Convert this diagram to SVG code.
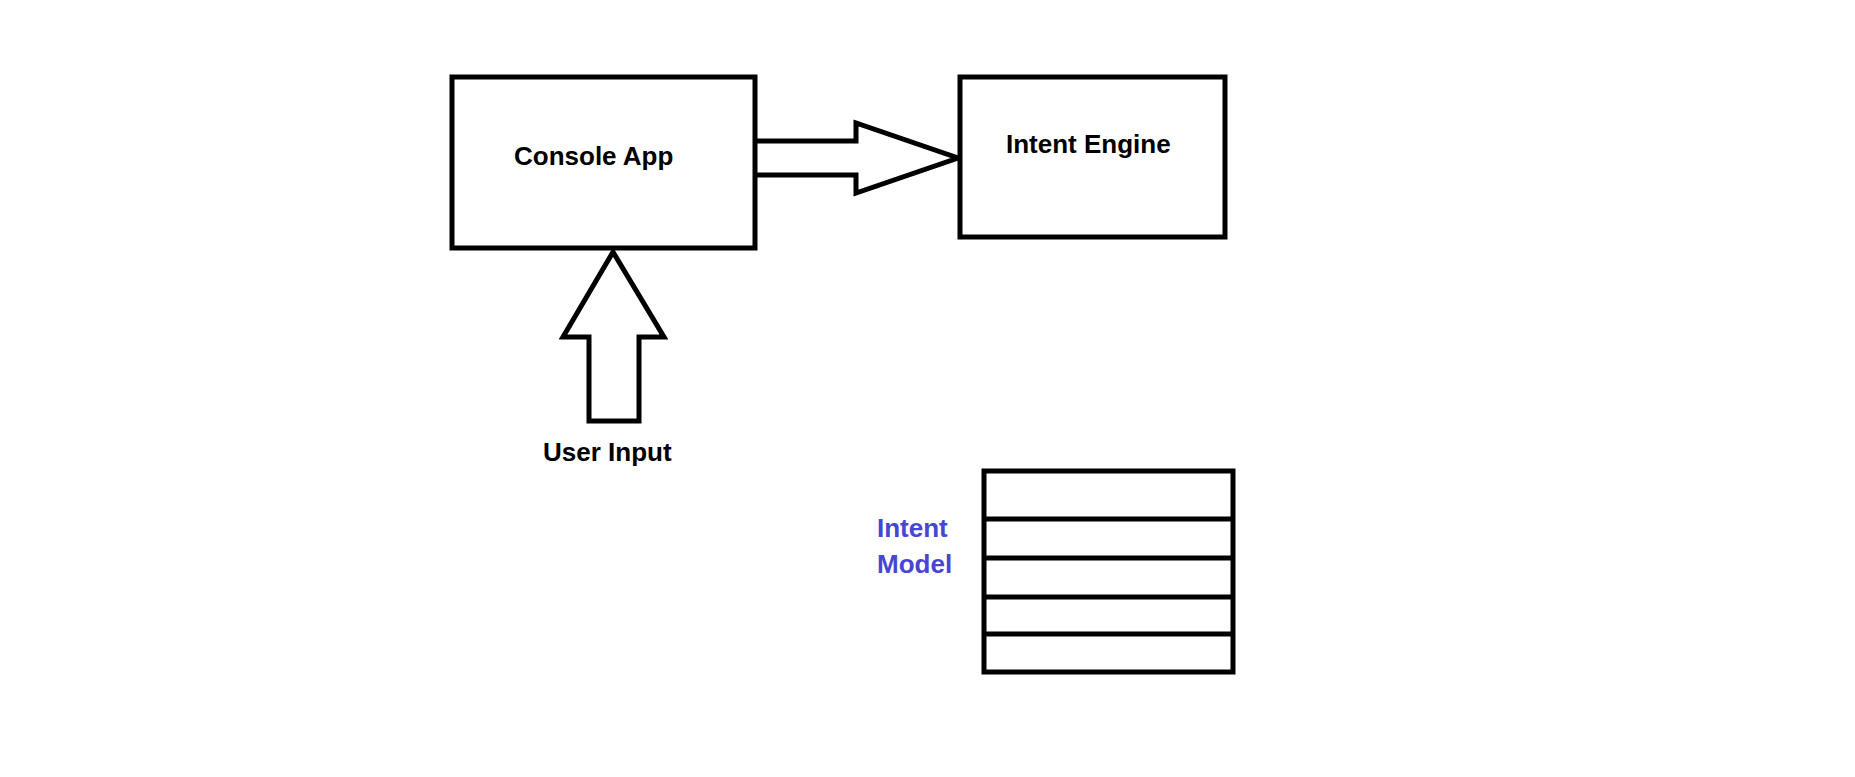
<svg xmlns="http://www.w3.org/2000/svg" width="1855" height="777" viewBox="0 0 1855 777">
<style>
.box{fill:#fff;stroke:#000;stroke-width:5}
.ln{fill:none;stroke:#000;stroke-width:5}
.arr{fill:#fff;stroke:#000;stroke-width:5;stroke-linejoin:miter}
.t{font-family:"Liberation Sans",Arial,sans-serif;font-weight:bold;font-size:26px;fill:#000}
.b{fill:#4646d2}
</style>
<rect width="1855" height="777" fill="#fff"/>
<g id="connectors">
<path class="arr" d="M755 141H856V123L958 158L856 193V175H755"/>
<path class="arr" d="M613 252L664 337H639V421H589V337H563Z"/>
</g>
<g id="console-app">
<rect class="box" x="452" y="77" width="303" height="171" fill-opacity="0"/>
<text class="t" x="514" y="165">Console App</text>
</g>
<g id="intent-engine">
<rect class="box" x="960" y="77" width="265" height="160"/>
<text class="t" x="1006" y="153">Intent Engine</text>
</g>
<g id="user-input">
<text class="t" x="543" y="461">User Input</text>
</g>
<g id="intent-model">
<rect class="box" x="984" y="471" width="249" height="201"/>
<path class="ln" d="M984 519H1233M984 558H1233M984 597H1233M984 634H1233"/>
<text class="t b" x="877" y="537">Intent</text>
<text class="t b" x="877" y="573">Model</text>
</g>
</svg>
